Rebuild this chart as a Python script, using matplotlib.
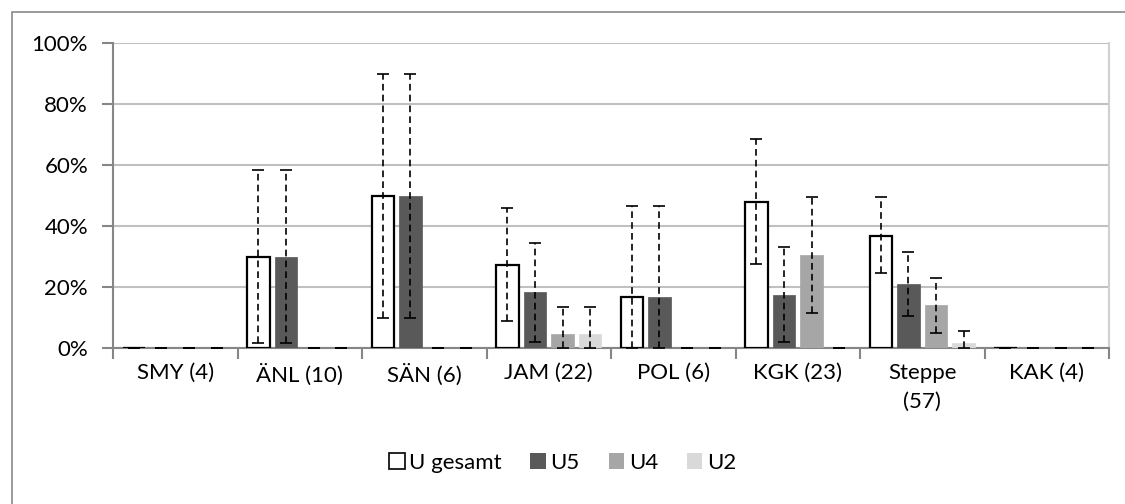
import numpy as np
import matplotlib.pyplot as plt
from matplotlib.patches import Patch, Rectangle

# ── Data ───────────────────────────────────────────────────────────────────
categories = ["SMY (4)", "ÄNL (10)", "SÄN (6)", "JAM (22)", "POL (6)",
              "KGK (23)", "Steppe\n(57)", "KAK (4)"]
series = ["U gesamt", "U5", "U4", "U2"]

u_gesamt = [0, 30.0, 50.0, 27.3, 16.7, 47.8, 36.8, 0]
u5 = [0, 30.0, 50.0, 18.2, 16.7, 17.4, 21.1, 0]
u4 = [0, 0, 0, 4.5, 0, 30.4, 14.0, 0]
u2 = [0, 0, 0, 4.5, 0, 0, 1.8, 0]

# confidence limits (lower, upper) in percent
u_gesamt_lo = [0, 1.5, 10.0, 9.0, 0, 27.5, 24.5, 0]
u_gesamt_hi = [0, 58.5, 90.0, 46.0, 46.5, 68.5, 49.5, 0]
u5_lo = [0, 1.5, 10.0, 2.0, 0, 2.0, 10.5, 0]
u5_hi = [0, 58.5, 90.0, 34.5, 46.5, 33.0, 31.5, 0]
u4_lo = [0, 0, 0, 0, 0, 11.5, 5.0, 0]
u4_hi = [0, 0, 0, 13.5, 0, 49.5, 23.0, 0]
u2_lo = [0, 0, 0, 0, 0, 0, 0, 0]
u2_hi = [0, 0, 0, 13.5, 0, 0, 5.5, 0]

values = [u_gesamt, u5, u4, u2]
lows = [u_gesamt_lo, u5_lo, u4_lo, u2_lo]
highs = [u_gesamt_hi, u5_hi, u4_hi, u2_hi]

# ── Style ──────────────────────────────────────────────────────────────────
plt.rcParams["font.family"] = ["Lato", "DejaVu Sans"]
face_colors = ["white", "#595959", "#a6a6a6", "#d9d9d9"]
edge_colors = ["black", "#595959", "#a6a6a6", "#d9d9d9"]
axis_gray = "#868686"
grid_gray = "#c0c0c0"

fig = plt.figure(figsize=(11.25, 5.04), dpi=100)
ax = fig.add_axes([113 / 1125, 1 - 348 / 504, 996 / 1125, 305 / 504])

x = np.arange(len(categories)) + 0.5
step = 0.221
width = 0.18

for i, (vals, lo, hi) in enumerate(zip(values, lows, highs)):
    xs = x + (i - 1.5) * step
    vals = np.array(vals)
    ax.bar(xs, vals, width=width, color=face_colors[i],
           edgecolor=edge_colors[i], linewidth=1.6 if i == 0 else 0.5,
           zorder=3)
    yerr = np.vstack([vals - np.array(lo), np.array(hi) - vals])
    eb = ax.errorbar(xs, vals, yerr=yerr, fmt="none", ecolor="black",
                     elinewidth=1.2, capsize=4, capthick=1.2, zorder=4)
    for coll in eb[2]:
        coll.set_linestyle((0, (4, 2.5)))

# ── Axes ───────────────────────────────────────────────────────────────────
ax.set_xlim(0, len(categories))
ax.set_ylim(0, 100)
ax.set_yticks(np.arange(0, 101, 20))
ax.set_yticklabels([f"{v}%" for v in range(0, 101, 20)])
ax.yaxis.grid(True, color=grid_gray, linewidth=1.5, zorder=0)
ax.set_axisbelow(True)

ax.set_xticks(np.arange(len(categories) + 1))
ax.set_xticklabels([])
ax.set_xticks(x, minor=True)
ax.set_xticklabels(categories, minor=True, linespacing=1.55)
ax.tick_params(axis="x", which="major", length=8, width=1.5, color=axis_gray)
ax.tick_params(axis="x", which="minor", length=0, pad=11, labelsize=16)
ax.tick_params(axis="y", length=8, width=1.5, color=axis_gray, pad=10,
               labelsize=16)

for side in ["left", "bottom"]:
    ax.spines[side].set_color(axis_gray)
    ax.spines[side].set_linewidth(1.5)
ax.spines["top"].set_visible(False)
ax.spines["right"].set_color("#d0d0d0")
ax.spines["right"].set_linewidth(1.5)

# ── Legend ─────────────────────────────────────────────────────────────────
handles = [Patch(facecolor=face_colors[i], edgecolor=edge_colors[i],
                 linewidth=1.2 if i == 0 else 0)
           for i in range(len(series))]
fig.legend(handles, series, loc="center", bbox_to_anchor=(0.5, 1 - 463 / 504),
           ncol=4, frameon=False, fontsize=16, handlelength=0.7,
           handleheight=0.7, handletextpad=0.2, columnspacing=1.3)

# outer chart border
fig.patches.append(Rectangle((12 / 1125, -0.1), 1.2, 1.1 - 12 / 504,
                             transform=fig.transFigure, fill=False,
                             edgecolor="#8a8a8a", linewidth=1.2))

fig.savefig("out.png", dpi=100)
plt.close(fig)
